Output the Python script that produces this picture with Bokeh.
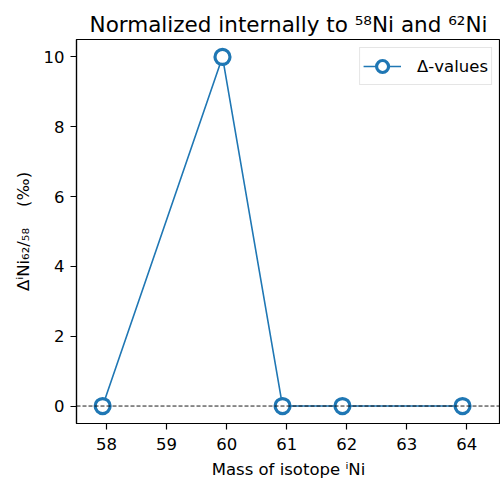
from bokeh.plotting import figure
from bokeh.models import Span, Legend, LegendItem, FixedTicker
from bokeh.embed import file_html
from bokeh.resources import INLINE

masses = [57.9353, 59.9308, 60.9311, 61.9283, 63.9280]
delta_values = [0.0, 10.0, 0.0, 0.0, 0.0]
x_ticks = [58, 59, 60, 61, 62, 63, 64]
y_ticks = [0, 2, 4, 6, 8, 10]

FONT = "DejaVu Sans"
C0 = "#1f77b4"

p = figure(width=500, height=482, output_backend="svg", toolbar_location=None,
           x_range=(57.5, 64.56), y_range=(-0.5, 10.5),
           min_border_left=76, min_border_right=0, min_border_top=39, min_border_bottom=59)

p.title.text = "Normalized internally to \u2075\u2078Ni and \u2076\u00b2Ni"
p.title.text_font = FONT
p.title.text_font_size = "21.5px"
p.title.text_font_style = "normal"
p.title.align = "center"
p.title.text_color = "black"
p.title.standoff = 5

p.xgrid.visible = False
p.ygrid.visible = False
p.outline_line_color = "black"
p.outline_line_width = 1.2
p.outline_line_alpha = 1

for ax in (p.xaxis, p.yaxis):
    ax.axis_line_color = "black"
    ax.axis_line_width = 1.2
    ax.major_tick_line_color = "black"
    ax.major_tick_line_width = 1.2
    ax.major_tick_out = 6
    ax.major_tick_in = 0
    ax.minor_tick_out = 0
    ax.minor_tick_in = 0
    ax.major_label_text_font = FONT
    ax.major_label_text_font_size = "16.5px"
    ax.major_label_text_color = "black"
    ax.major_label_standoff = 6
    ax.axis_label_text_font = FONT
    ax.axis_label_text_font_size = "16.5px"
    ax.axis_label_text_font_style = "normal"
    ax.axis_label_text_color = "black"

p.xaxis.major_label_standoff = 8
p.xaxis.ticker = FixedTicker(ticks=x_ticks)
p.yaxis.ticker = FixedTicker(ticks=y_ticks)
p.xaxis.axis_label = "Mass of isotope \u2071Ni"
p.yaxis.axis_label = "\u0394\u2071Ni\u2086\u2082/\u2085\u2088\u00a0\u00a0\u00a0\u00a0(\u2030)"
p.xaxis.axis_label_standoff = 7
p.yaxis.axis_label_standoff = 8

zero = Span(location=0, dimension="width", line_color="black", line_width=0.9, line_dash="4 2")
p.add_layout(zero)

ln = p.line(masses, delta_values, line_color=C0, line_width=1.6)
sc = p.scatter(masses, delta_values, marker="circle", size=15, fill_color="white",
               line_color=C0, line_width=3.2)

legend = Legend(items=[LegendItem(label="\u0394-values", renderers=[ln, sc])],
                location="top_right")
legend.label_text_font = FONT
legend.label_text_font_size = "16.5px"
legend.label_text_color = "black"
legend.glyph_width = 38
legend.glyph_height = 30
legend.label_height = 20
legend.label_standoff = 16
legend.padding = 3
legend.margin = 8
legend.border_line_color = "#cccccc"
legend.border_line_width = 1
legend.background_fill_alpha = 0.8
p.add_layout(legend, "center")

open("out.html", "w").write(file_html(p, INLINE))
